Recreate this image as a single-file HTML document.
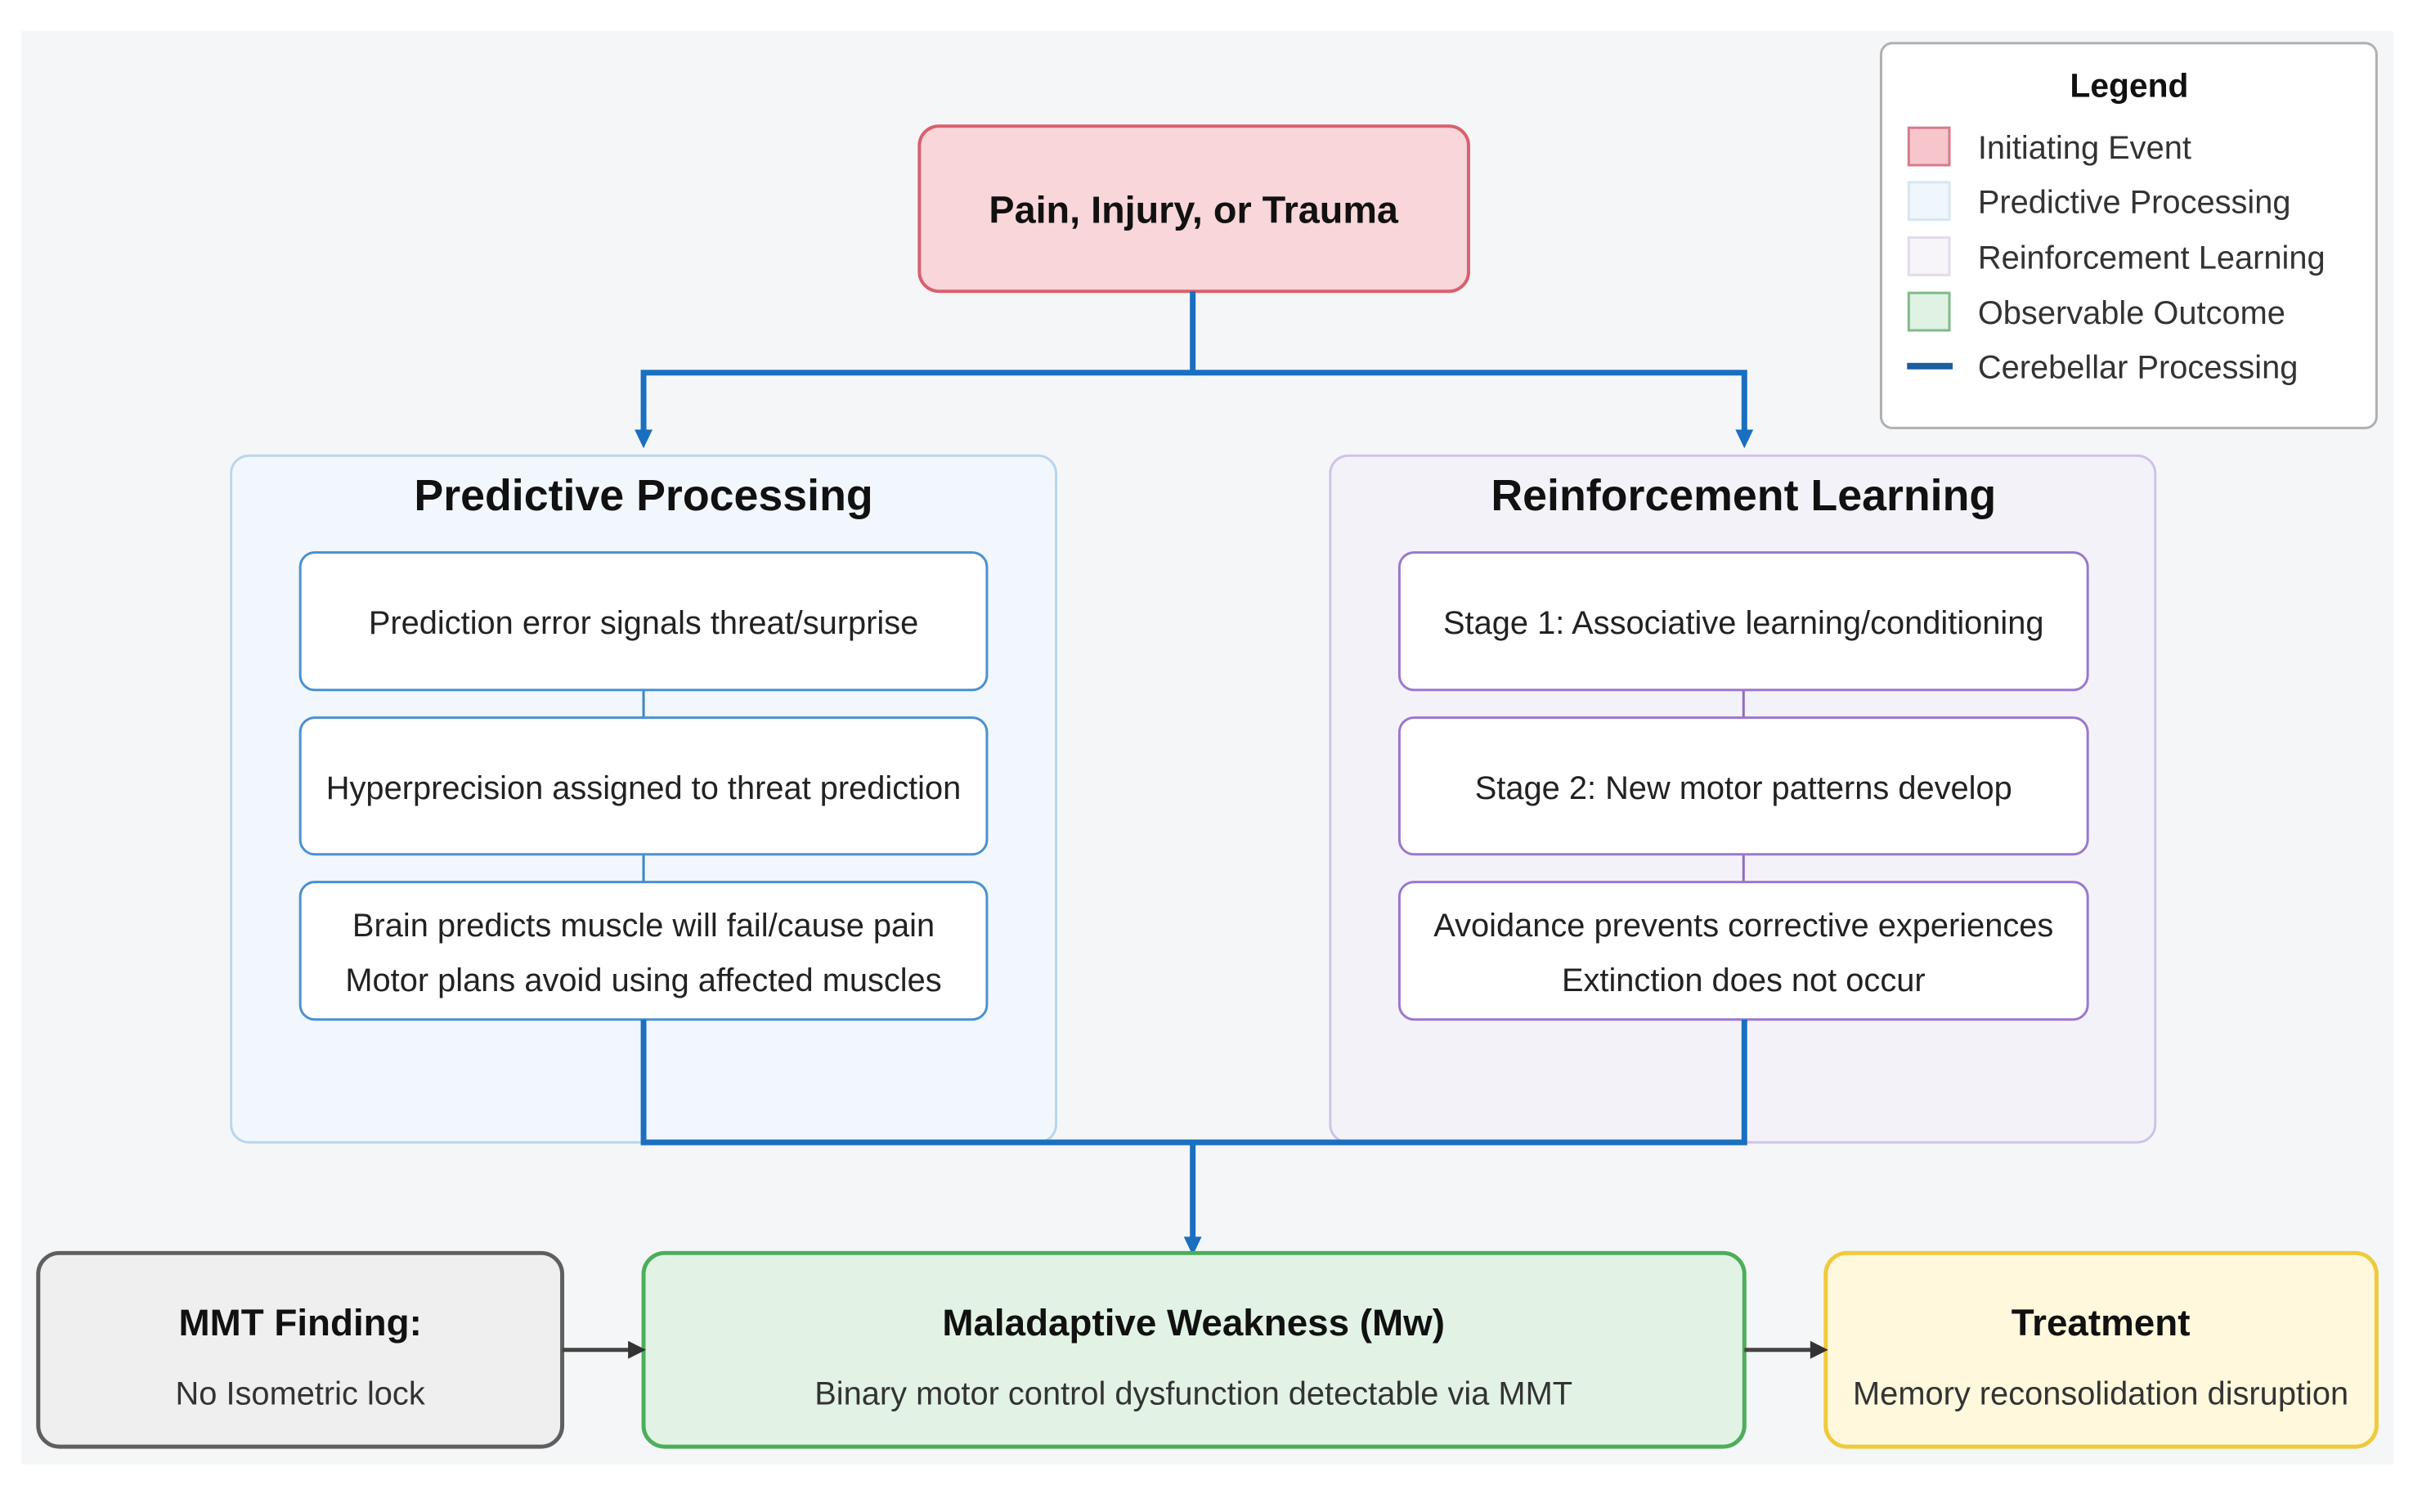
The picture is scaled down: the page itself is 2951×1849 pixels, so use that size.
<!DOCTYPE html>
<html><head><meta charset="utf-8"><style>
html,body{margin:0;padding:0;background:#fff;}
svg{display:block;}
text{font-family:"Liberation Sans",sans-serif;}
</style></head><body>
<svg width="2951" height="1849" viewBox="0 0 2951 1849" xmlns="http://www.w3.org/2000/svg">
<g transform="translate(0,0) scale(0.995)">
<rect x="26" y="38" width="2916" height="1762" fill="#f5f6f7"/>
<rect x="2312" y="53" width="609" height="473" rx="14" fill="#fff" stroke="#b0b0b0" stroke-width="3"/>
<text x="2617" y="119" font-size="41" font-weight="bold" text-anchor="middle" fill="#111">Legend</text>
<rect x="2346" y="157" width="50" height="46" fill="#f6c6cc" stroke="#d87a88" stroke-width="3"/>
<rect x="2346" y="224" width="50" height="46" fill="#f0f7fc" stroke="#d6e6f0" stroke-width="3"/>
<rect x="2346" y="292" width="50" height="46" fill="#f7f5fa" stroke="#e2dbea" stroke-width="3"/>
<rect x="2346" y="360" width="50" height="46" fill="#dff2e3" stroke="#7fba8c" stroke-width="3"/>
<rect x="2344" y="446" width="56" height="8" fill="#1a5f9e"/>
<g font-size="40" fill="#333">
<text x="2431" y="195">Initiating Event</text>
<text x="2431" y="262">Predictive Processing</text>
<text x="2431" y="330">Reinforcement Learning</text>
<text x="2431" y="398">Observable Outcome</text>
<text x="2431" y="465">Cerebellar Processing</text>
</g>
<rect x="1130" y="155" width="675" height="203" rx="24" fill="#f8d6da" stroke="#d9606e" stroke-width="4"/>
<text x="1467" y="274" font-size="47" font-weight="bold" text-anchor="middle" fill="#111">Pain, Injury, or Trauma</text>
<rect x="284" y="560" width="1014" height="844" rx="22" fill="#f1f7fc" stroke="#b8d6ee" stroke-width="3"/>
<rect x="1635" y="560" width="1014" height="844" rx="22" fill="#f4f2f9" stroke="#cfc3e8" stroke-width="3"/>
<text x="791" y="627" font-size="54" font-weight="bold" text-anchor="middle" fill="#111">Predictive Processing</text>
<text x="2143" y="627" font-size="54" font-weight="bold" text-anchor="middle" fill="#111">Reinforcement Learning</text>
<g stroke-width="3">
<line x1="791" y1="848" x2="791" y2="882" stroke="#3d85c6"/>
<line x1="791" y1="1050" x2="791" y2="1084" stroke="#3d85c6"/>
<line x1="2143" y1="848" x2="2143" y2="882" stroke="#8e6bc4"/>
<line x1="2143" y1="1050" x2="2143" y2="1084" stroke="#8e6bc4"/>
</g>
<g fill="#fff" stroke="#4a90d0" stroke-width="3">
<rect x="369" y="679" width="844" height="169" rx="18"/>
<rect x="369" y="882" width="844" height="168" rx="18"/>
<rect x="369" y="1084" width="844" height="169" rx="18"/>
</g>
<g fill="#fff" stroke="#9a78cf" stroke-width="3">
<rect x="1720" y="679" width="846" height="169" rx="18"/>
<rect x="1720" y="882" width="846" height="168" rx="18"/>
<rect x="1720" y="1084" width="846" height="169" rx="18"/>
</g>
<g font-size="40" fill="#222" text-anchor="middle">
<text x="791" y="779">Prediction error signals threat/surprise</text>
<text x="791" y="982">Hyperprecision assigned to threat prediction</text>
<text x="791" y="1151">Brain predicts muscle will fail/cause pain</text>
<text x="791" y="1218">Motor plans avoid using affected muscles</text>
<text x="2143" y="779">Stage 1: Associative learning/conditioning</text>
<text x="2143" y="982">Stage 2: New motor patterns develop</text>
<text x="2143" y="1151">Avoidance prevents corrective experiences</text>
<text x="2143" y="1218">Extinction does not occur</text>
</g>
<g stroke="#1a6fc0" stroke-width="7" fill="none">
<polyline points="1466,358 1466,458"/>
<polyline points="791,535 791,458 2144,458 2144,535"/>
<polyline points="791,1253 791,1404 2144,1404 2144,1253"/>
<polyline points="1466,1404 1466,1525"/>
</g>
<g fill="#1a6fc0">
<path d="M780,528 L802,528 L791,551 z"/>
<path d="M2133,528 L2155,528 L2144,551 z"/>
<path d="M1455,1520 L1477,1520 L1466,1543 z"/>
</g>
<rect x="47" y="1540" width="644" height="238" rx="26" fill="#efefef" stroke="#5f5f5f" stroke-width="5"/>
<rect x="791" y="1540" width="1353" height="238" rx="26" fill="#e2f3e5" stroke="#4cae5a" stroke-width="5"/>
<rect x="2244" y="1540" width="677" height="238" rx="26" fill="#fff8dc" stroke="#f0c93c" stroke-width="5"/>
<g stroke="#444" stroke-width="5">
<line x1="691" y1="1659" x2="775" y2="1659"/>
<line x1="2144" y1="1659" x2="2228" y2="1659"/>
</g>
<g fill="#333">
<path d="M772,1648 L794,1659 L772,1670 z"/>
<path d="M2225,1648 L2247,1659 L2225,1670 z"/>
</g>
<g text-anchor="middle">
<text x="369" y="1641" font-size="46" font-weight="bold" fill="#111">MMT Finding:</text>
<text x="369" y="1726" font-size="40" fill="#333">No Isometric lock</text>
<text x="1467" y="1641" font-size="46" font-weight="bold" fill="#111">Maladaptive Weakness (Mw)</text>
<text x="1467" y="1726" font-size="40" fill="#333">Binary motor control dysfunction detectable via MMT</text>
<text x="2582" y="1641" font-size="46" font-weight="bold" fill="#111">Treatment</text>
<text x="2582" y="1726" font-size="40" fill="#333">Memory reconsolidation disruption</text>
</g>
</g>
</svg>
</body></html>
